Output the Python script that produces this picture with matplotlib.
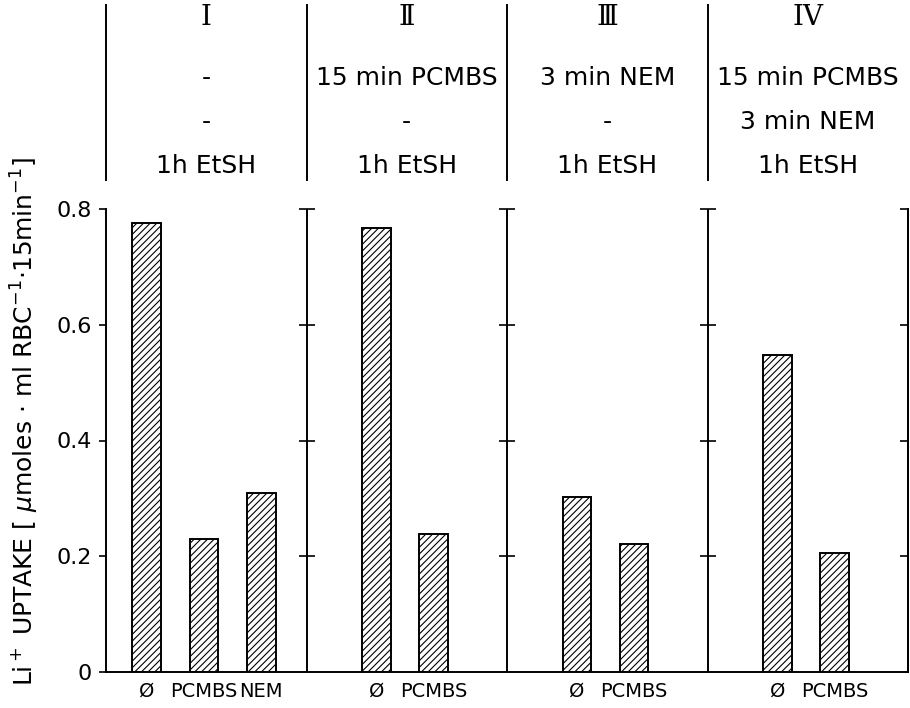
import numpy as np
import matplotlib
matplotlib.use("Agg")
import matplotlib.pyplot as plt

""" Data """
panel_names = ["I", "Ⅱ", "Ⅲ", "IV"]
row2 = ["-", "15 min PCMBS", "3 min NEM", "15 min PCMBS"]
row3 = ["-", "-", "-", "3 min NEM"]
row4 = ["1h EtSH", "1h EtSH", "1h EtSH", "1h EtSH"]
bar_labels = [["Ø", "PCMBS", "NEM"], ["Ø", "PCMBS"], ["Ø", "PCMBS"], ["Ø", "PCMBS"]]
uptake = [[0.776, 0.229, 0.309], [0.767, 0.238], [0.302, 0.221], [0.547, 0.205]]
y_ticks = [0, 0.2, 0.4, 0.6, 0.8]
y_tick_labels = ["0", "0.2", "0.4", "0.6", "0.8"]

""" Layout """
W, H = 910, 708
panel_w = 3.5
plt.rcParams['font.family'] = ['DejaVu Sans']
plt.rcParams['hatch.linewidth'] = 0.8

fig = plt.figure(figsize=(W / 100, H / 100), dpi=100)
ax = fig.add_axes([106 / W, (H - 672) / H, (908 - 106) / W, (672 - 209) / H])
hx = fig.add_axes([106 / W, (H - 180) / H, (908 - 106) / W, 175 / H])

x_pos = []
x_lab = []
for i, vals in enumerate(uptake):
    start = i * panel_w
    off = 0.71 if len(vals) == 3 else 1.22
    xs = [start + off + j for j in range(len(vals))]
    ax.bar(xs, vals, width=0.5, color="white", edgecolor="black",
           linewidth=1.4, hatch="/////")
    x_pos += xs
    x_lab += bar_labels[i]

ax.set_xlim(0, 4 * panel_w)
ax.set_ylim(0, 0.8)
ax.spines['top'].set_visible(False)
for s in ['left', 'bottom', 'right']:
    ax.spines[s].set_linewidth(1.4)
ax.set_yticks(y_ticks)
ax.set_yticklabels(y_tick_labels, fontsize=16)
ax.tick_params(axis='y', direction='out', length=5, width=1.2, pad=5)
ax.set_xticks(x_pos)
ax.set_xticklabels(x_lab, fontsize=14)
ax.tick_params(axis='x', length=0, pad=7)

# right edge, ticks pointing inward
sec = ax.secondary_yaxis('right')
sec.set_yticks(y_ticks[1:])
sec.tick_params(direction='in', length=6, width=1.2, labelright=False)
sec.spines['right'].set_linewidth(1.4)

# panel dividers with crossing ticks
for i in range(1, 4):
    d = i * panel_w
    ax.axvline(d, color="black", lw=1.4)
    ax.plot([d] * 4, y_ticks[1:], ls="none", marker="_", ms=12, mew=1.2,
            color="black", clip_on=False)

fig.text(25 / W, (H - 422) / H,
         r"Li$^+$ UPTAKE [ $\mu$moles $\cdot$ ml RBC$^{-1}$$\cdot$15min$^{-1}$]",
         rotation=90, ha="center", va="center", fontsize=18)

# header with treatments
hx.set_xlim(0, 4 * panel_w)
hx.set_ylim(0, 1)
hx.axis("off")
for i in range(4):
    hx.axvline(i * panel_w, color="black", lw=1.4, clip_on=False)
    cx = i * panel_w + panel_w / 2
    hx.text(cx, 0.926, panel_names[i], ha="center", va="center",
            fontsize=20, family="DejaVu Serif")
    hx.text(cx, 0.583, row2[i], ha="center", va="center", fontsize=18)
    hx.text(cx, 0.331, row3[i], ha="center", va="center", fontsize=18)
    hx.text(cx, 0.08, row4[i], ha="center", va="center", fontsize=18)

fig.savefig("out.png", dpi=100)
